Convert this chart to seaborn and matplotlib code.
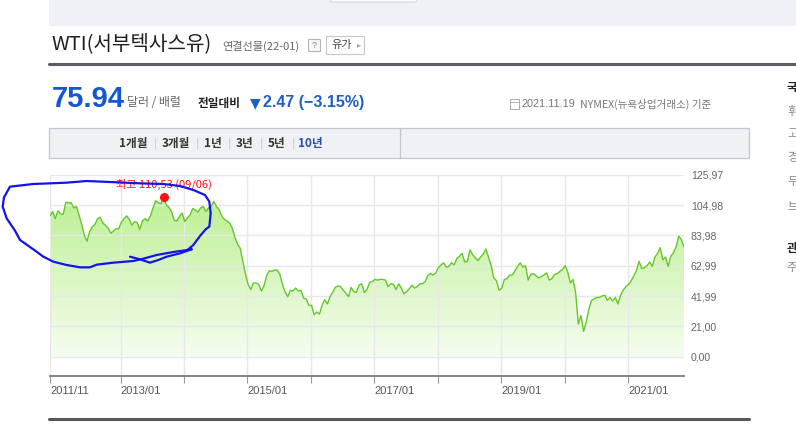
import numpy as np
import pandas as pd
import matplotlib
matplotlib.use("Agg")
import matplotlib.pyplot as plt
from matplotlib.colors import LinearSegmentedColormap
from matplotlib.lines import Line2D
from matplotlib.patches import Rectangle, FancyBboxPatch
import seaborn as sns

# WTI weekly-ish closes (one value every ~half month)
wti_2011_12 = [97.5, 100.5, 95.5, 101, 99, 98.5, 107, 106.5, 106.5, 103, 104, 98,
               91.5, 84, 80, 86.5, 90, 91.5, 95.5, 96.5, 92.5, 91, 89, 85.5]
wti_2012_13 = [87, 88.5, 88.5, 93, 95.5, 97.5, 95, 91, 93.5, 93, 88, 94,
               95.5, 94, 97.5, 103, 108, 106.5, 106, 110.53, 105, 103.5, 100.5, 94.5]
wti_2013_14 = [94, 97, 99.5, 93.5, 96, 98, 102.5, 101.5, 100, 103, 104, 100.5,
               103, 104, 107.5, 104, 102, 97.5, 95, 94, 92.5, 89, 82.5, 78]
wti_2014_15 = [75, 66, 57, 50, 46.5, 51, 51, 50, 45.5, 49, 56, 59.5,
               59, 60, 60, 57, 50, 45, 41.5, 46, 45.5, 47.5, 45.5, 46]
wti_2015_16 = [40.5, 40, 35.5, 35.5, 29, 31, 29.5, 35.5, 39.5, 36.5, 41.5, 44.5,
               48, 49, 48.5, 46, 44, 41.5, 48, 45, 44.5, 49.5, 50.5, 44.5]
wti_2016_17 = [46.5, 51.5, 52, 53.5, 53, 53.5, 53.5, 53, 48.5, 50.5, 50, 46.5,
               50.5, 47.5, 43.5, 45, 47, 49.5, 47.5, 48.5, 50.5, 50.5, 52, 56]
wti_2017_18 = [57.5, 56.5, 58, 61.5, 63.5, 65, 62, 62.5, 65, 63.5, 68, 69.5,
               71.5, 65.5, 66, 74, 70.5, 68.5, 66.5, 69, 71, 74.5, 69, 63]
wti_2018_19 = [54.5, 52.5, 46, 47.5, 53.5, 54, 56.5, 56.5, 59.5, 62.5, 65, 62,
               63, 53, 57, 57.5, 56, 54.5, 55.5, 56.5, 58, 53, 54, 57]
wti_2019_20 = [57.5, 59, 60.5, 63, 58.5, 51, 53.5, 44, 22.5, 28.5, 17.5, 24,
               33, 39, 40, 41, 41, 42, 42.5, 39, 41, 38.5, 41, 36.5]
wti_2020_21 = [42.5, 46, 48.5, 50, 52.5, 56, 59.5, 66, 61, 61.5, 63, 65.5,
               62.5, 69, 71.5, 75.5, 67, 69, 62.5, 69.5, 72, 76, 83.5, 81, 75.94]

start_date = "2011-11-21"
end_date = "2021-11-19"

y_ticks = [0.00, 21.00, 41.99, 62.99, 83.98, 104.98, 125.97]
y_tick_labels = ["0,00", "21,00", "41,99", "62,99", "83,98", "104,98", "125,97"]

x_tick_dates = ["2011-11-21", "2013-01-01", "2014-01-01", "2015-01-01", "2016-01-01",
                "2017-01-01", "2018-01-01", "2019-01-01", "2020-01-01", "2021-01-01"]
x_tick_labels = ["2011/11", "2013/01", "", "2015/01", "", "2017/01", "", "2019/01", "", "2021/01"]

peak_text = "최고 110,53 (09/06)"
tabs = ["1개월", "3개월", "1년", "3년", "5년", "10년"]
side_items = ["국제 유가", "휘발유", "고급휘발유", "경유", "두바이유", "브렌트유", "관련 뉴스", "주요 뉴스"]

prices = (wti_2011_12 + wti_2012_13 + wti_2013_14 + wti_2014_15 + wti_2015_16 +
          wti_2016_17 + wti_2017_18 + wti_2018_19 + wti_2019_20 + wti_2020_21)
dates = pd.date_range(start_date, end_date, periods=len(prices))
df = pd.DataFrame({"date": dates, "price": prices})

sns.set_theme(style="white")
plt.rcParams['font.family'] = ['Noto Sans CJK KR', 'DejaVu Sans']
LAT = ['Liberation Sans', 'DejaVu Sans']

W, H = 796, 447
fig = plt.figure(figsize=(W / 100, H / 100), dpi=100)
fig.patch.set_facecolor('white')


def fx(x):
    return x / W


def fy(y):
    return 1 - y / H


def box(x0, y0, x1, y1, **kw):
    r = Rectangle((fx(x0), fy(y1)), (x1 - x0) / W, (y1 - y0) / H,
                  transform=fig.transFigure, **kw)
    fig.add_artist(r)


def hline(x0, x1, y, **kw):
    fig.add_artist(Line2D([fx(x0), fx(x1)], [fy(y), fy(y)], transform=fig.transFigure, **kw))


def txt(x, y, s, **kw):
    kw.setdefault('va', 'center')
    fig.text(fx(x), fy(y), s, **kw)


# ---- page header ----
box(49, -1, 796, 26, facecolor='#eff1f6', edgecolor='none')
fig.add_artist(FancyBboxPatch((fx(330), fy(2)), 87 / W, 8 / H, boxstyle="round,pad=0,rounding_size=0.004",
                              transform=fig.transFigure, facecolor='white', edgecolor='#cfd3db', lw=0.8))

txt(51, 44, "WTI(서부텍사스유)", fontsize=14.5, color='#1e1e1e')
txt(222, 46, "연결선물(22-01)", fontsize=8, color='#666666')
box(308, 39, 320, 51, facecolor='#f7f7f7', edgecolor='#b5b5b5', lw=0.8)
txt(314, 45.5, "?", fontsize=6.5, color='#888888', ha='center', family=LAT)
box(326, 36, 364, 54, facecolor='white', edgecolor='#c8c8c8', lw=0.8)
txt(342, 45, "유가", fontsize=8, color='#444444', ha='center')
txt(357, 45, "▸", fontsize=6, color='#aaaaaa', family=['DejaVu Sans'])

hline(49, 796, 64, color='#595c62', lw=2.2)

txt(52, 99, "75.94", fontsize=21, fontweight='bold', color='#1557cf', family=LAT)
txt(127, 102, "달러 / 배럴", fontsize=8.6, color='#666666')
txt(198, 103, "전일대비", fontsize=8.4, fontweight='bold', color='#222222')
txt(250, 103, "▼", fontsize=10, color='#1f5fc0', family=['DejaVu Sans'])
txt(263, 103, "2.47 (−3.15%)", fontsize=11.5, fontweight='bold', color='#1f5fc0', family=LAT)

# little calendar icon before the date
box(510, 99, 519, 109, facecolor='none', edgecolor='#aaaaaa', lw=0.7)
hline(510, 519, 102, color='#aaaaaa', lw=0.6)
txt(575, 104, "2021.11.19", fontsize=7.8, color='#777777', ha='right', family=LAT)
txt(580, 104, "NYMEX(뉴욕상업거래소) 기준", fontsize=7.6, color='#777777')

# right column (cut by the page edge, as on the page)
for s, y, bold in zip(side_items, [87, 112, 134, 158, 182, 206, 248, 268],
                      [True, False, False, False, False, False, True, False]):
    txt(787, y, s, fontsize=8.4, color='#222222' if bold else '#888888',
        fontweight='bold' if bold else 'normal')

# period tabs
box(49, 128, 749, 158, facecolor='#eff1f5', edgecolor='#c3c6cd', lw=0.9)
fig.add_artist(Line2D([fx(399.5)] * 2, [fy(128), fy(158)], transform=fig.transFigure, color='#c3c6cd', lw=0.9))
tab_x = [133, 176, 213, 244, 276, 310]
for i, (t, x) in enumerate(zip(tabs, tab_x)):
    txt(x, 143, t, fontsize=8.4, fontweight='bold', ha='center',
        color='#2a4ea6' if i == len(tabs) - 1 else '#333333')
for x in [155, 197, 229, 261, 293]:
    fig.add_artist(Line2D([fx(x)] * 2, [fy(138), fy(148)], transform=fig.transFigure, color='#d0d0d0', lw=0.8))

hline(49, 749, 419, color='#55575c', lw=2.2)

# ---- chart ----
ax = fig.add_axes([fx(50), fy(376), (684 - 50) / W, (376 - 174.7) / H])
ax.set_facecolor('white')

sns.lineplot(data=df, x="date", y="price", ax=ax, color='#66c72a', lw=1.0, zorder=3)

# gradient fill under the line
poly = ax.fill_between(df["date"], df["price"], 0, color='none', lw=0)
cmap = LinearSegmentedColormap.from_list('wti', ['#f6fdf1', '#b5ee86'])
xn = matplotlib.dates.date2num(df["date"])
grad = np.linspace(0, 1, 256).reshape(-1, 1)
im = ax.imshow(grad, extent=[xn[0], xn[-1], 0, max(y_ticks)], origin='lower',
               aspect='auto', cmap=cmap, zorder=0.2)
im.set_clip_path(poly.get_paths()[0], transform=ax.transData)

ax.set_xlim(pd.Timestamp(start_date), pd.Timestamp(end_date))
ax.set_ylim(-13.36, max(y_ticks))

ax.grid(True, color='#e8e8e8', lw=1.0)
ax.set_axisbelow(True)
for side in ['left', 'top', 'right']:
    ax.spines[side].set_visible(False)
ax.spines['bottom'].set_color('#7a7a7a')
ax.spines['bottom'].set_linewidth(1.3)

ax.yaxis.tick_right()
ax.set_yticks(y_ticks)
ax.set_yticklabels(y_tick_labels, fontsize=7.6, color='#666666', family=LAT)
ax.tick_params(axis='y', length=0, pad=5)

ax.set_xticks(pd.to_datetime(x_tick_dates))
ax.set_xticklabels(x_tick_labels, fontsize=8, color='#555555', ha='left', family=LAT)
ax.tick_params(axis='x', length=5, color='#9a9a9a', width=0.8, pad=2, bottom=True)
ax.set_xlabel("")
ax.set_ylabel("")

# peak marker
ipk = int(np.argmax(prices))
ax.plot(dates[ipk], prices[ipk], 'o', color='#ff1111', ms=5.5, zorder=5)
ax.annotate(peak_text, (dates[ipk], prices[ipk]), xytext=(0, 13), textcoords='offset pixels',
            ha='center', va='center', fontsize=8, color='#ff1111', annotation_clip=False)

# hand-drawn blue loop on the screenshot
loop = [(575, 268), (520, 276), (470, 285), (430, 296), (400, 303), (340, 308), (290, 314),
        (270, 322), (240, 322), (200, 315), (160, 305), (130, 290), (100, 268), (60, 240),
        (45, 212), (20, 175), (8, 140), (12, 112), (30, 80), (100, 72), (200, 68), (260, 63),
        (330, 66), (420, 70), (490, 72), (540, 78), (580, 90), (615, 105), (628, 125),
        (632, 160), (628, 200), (618, 207), (600, 228), (580, 255), (565, 268)]
cross = [(390, 290), (420, 298), (450, 308), (475, 300), (500, 290), (540, 280), (575, 268)]
for path in (loop, cross):
    xs = [fx(p[0] / 3) for p in path]
    ys = [fy(160 + p[1] / 3) for p in path]
    fig.add_artist(Line2D(xs, ys, transform=fig.transFigure, color='#1414e6', lw=1.6,
                          solid_capstyle='round', solid_joinstyle='round'))

fig.savefig("out.png", dpi=100)
